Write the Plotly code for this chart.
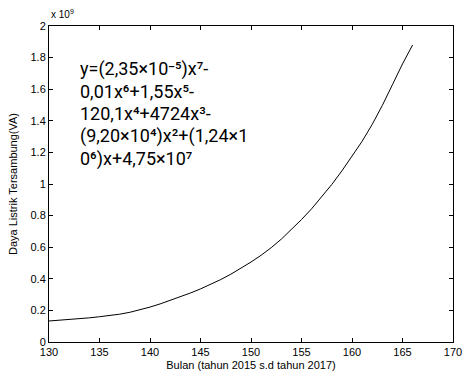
import plotly.graph_objects as go

# Monthly connected electrical power (in units of 1e9 VA)
bulan = list(range(130, 167))
daya = [0.133, 0.137, 0.142, 0.147, 0.153, 0.160, 0.167, 0.176, 0.188, 0.203,
        0.221, 0.241, 0.263, 0.286, 0.310, 0.336, 0.364, 0.395, 0.429, 0.466,
        0.506, 0.549, 0.597, 0.651, 0.711, 0.775, 0.843, 0.917, 0.997, 1.083,
        1.174, 1.270, 1.377, 1.497, 1.628, 1.760, 1.880]

x_ticks = [130, 135, 140, 145, 150, 155, 160, 165, 170]
y_ticks = [0, 0.2, 0.4, 0.6, 0.8, 1.0, 1.2, 1.4, 1.6, 1.8, 2.0]
y_ticktext = ["0", "0.2", "0.4", "0.6", "0.8", "1", "1.2", "1.4", "1.6", "1.8", "2"]

# Fitted polynomial, wrapped over five lines
equation_lines = [
    "y=(2,35×10⁻⁵)x⁷-",
    "0,01x⁶+1,55x⁵-",
    "120,1x⁴+4724x³-",
    "(9,20×10⁴)x²+(1,24×1",
    "0⁶)x+4,75×10⁷",
]

fig = go.Figure()
fig.add_trace(go.Scatter(x=bulan, y=daya, mode="lines",
                         line=dict(color="black", width=1), showlegend=False))

axis_common = dict(showgrid=False, zeroline=False, showline=True, linecolor="black",
                   linewidth=1, mirror="ticks", ticks="inside", ticklen=4,
                   tickcolor="black", automargin=False,
                   tickfont=dict(family="Liberation Sans", size=11, color="black"))

fig.update_xaxes(range=[130, 170], tickvals=x_ticks,
                 title=dict(text="Bulan (tahun 2015 s.d tahun 2017)",
                            font=dict(family="Liberation Sans", size=11, color="black"),
                            standoff=4),
                 **axis_common)
fig.update_yaxes(range=[0, 2], tickvals=y_ticks, ticktext=y_ticktext, **axis_common)

# Y-axis title placed close to the left edge
fig.add_annotation(x=0, y=0.5, xref="paper", yref="paper", xshift=-36,
                   text="Daya Listrik Tersambung(VA)", textangle=-90, showarrow=False,
                   xanchor="center", yanchor="middle",
                   font=dict(family="Liberation Sans", size=11, color="black"))

for i, line in enumerate(equation_lines):
    fig.add_annotation(x=0.072, y=1.73 - i * 0.143, xref="paper", yref="y",
                       text=line, showarrow=False, xanchor="left", yanchor="middle",
                       font=dict(family="Roboto", size=18, color="black"))

fig.add_annotation(x=0, y=1.0, xref="paper", yref="paper", yshift=4,
                   text="x 10<sup>9</sup>", showarrow=False, xanchor="left", yanchor="bottom",
                   font=dict(family="Liberation Sans", size=10, color="black"))

fig.update_layout(width=463, height=381, margin=dict(l=49, r=10, t=26, b=39),
                  plot_bgcolor="white", paper_bgcolor="white")

fig.write_html("out.html")
